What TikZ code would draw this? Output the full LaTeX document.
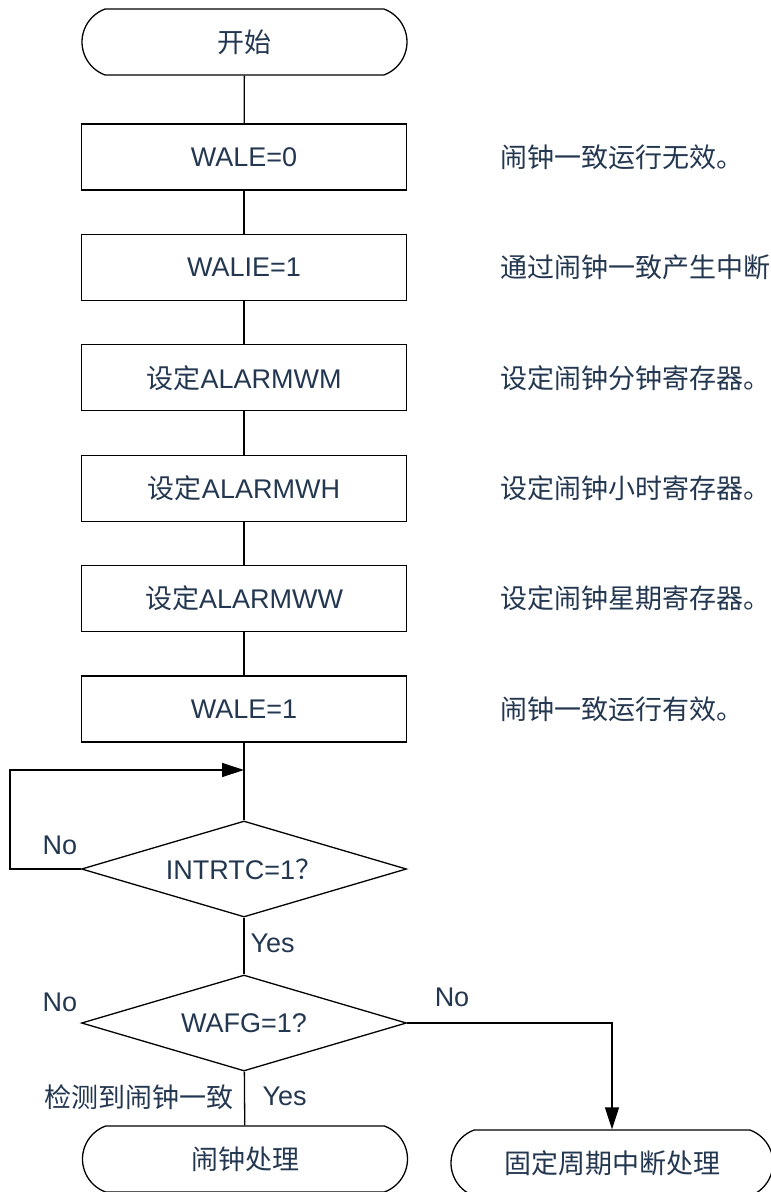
\documentclass[tikz,border=0pt]{standalone}
\usepackage{fontspec}
\setmainfont{Liberation Sans}
\newfontfamily\cjk{Noto Sans CJK SC}
\usetikzlibrary{shapes.geometric,shapes.misc,arrows.meta}
\definecolor{txtc}{RGB}{35,55,80}

\begin{document}
\begin{tikzpicture}[x=0.5pt, y=-0.5pt, line width=0.65pt,
    box/.style={draw, minimum width=162.5pt, minimum height=33pt, inner sep=0pt,
                text=txtc, font=\fontsize{13.5}{16}\selectfont},
    term/.style={box, rounded rectangle, rounded rectangle arc length=140},
    dec/.style={box, diamond, aspect=3.39, minimum height=48pt},
    lbl/.style={text=txtc, inner sep=0pt, font=\fontsize{13.5}{16}\selectfont},
    arr/.style={-{Triangle[length=11pt, width=7pt]}}
]
\useasboundingbox (0,0) rectangle (770,1192);

\node[term] (start) at (244.5,42) {\cjk 开始};
\node[box] (wale0) at (244,157) {WALE=0};
\node[box] (walie) at (244,267.4) {WALIE=1};
\node[box] (setwm) at (244,377.8) {{\cjk 设定}ALARMWM};
\node[box] (setwh) at (244,488.2) {{\cjk 设定}ALARMWH};
\node[box] (setww) at (244,598.6) {{\cjk 设定}ALARMWW};
\node[box] (wale1) at (244,709) {WALE=1};

% comments
\node[lbl, anchor=west] (c1) at (500,157) {\cjk 闹钟一致运行无效。};
\node[lbl, anchor=west] (c2) at (500,267.4) {\cjk 通过闹钟一致产生中断};
\node[lbl, anchor=west] (c3) at (500,377.8) {\cjk 设定闹钟分钟寄存器。};
\node[lbl, anchor=west] (c4) at (500,488.2) {\cjk 设定闹钟小时寄存器。};
\node[lbl, anchor=west] (c5) at (500,598.6) {\cjk 设定闹钟星期寄存器。};
\node[lbl, anchor=west] (c6) at (500,709) {\cjk 闹钟一致运行有效。};

\coordinate (join) at (244,770);
\node[dec] (intrtc) at (244,869) {INTRTC=1{\cjk ？}};
\node[dec] (wafg) at (244,1023) {WAFG=1?};
\node[term] (alarm) at (245,1159) {\cjk 闹钟处理};
\node[term, minimum width=161pt] (fixed) at (612,1163) {\cjk 固定周期中断处理};

\draw (start) -- (wale0);
\draw (wale0) -- (walie);
\draw (walie) -- (setwm);
\draw (setwm) -- (setwh);
\draw (setwh) -- (setww);
\draw (setww) -- (wale1);
\draw (wale1) -- (intrtc);
\draw[arr] (intrtc.west) -- ++(-71,0) |- (join);
\draw (intrtc) -- (wafg);
\draw (wafg) -- (alarm);
\draw[arr] (wafg.east) -| (fixed.north);

\node[lbl] (no1) at (60,845) {No};
\node[lbl, anchor=west] (yes1) at (250,943) {Yes};
\node[lbl] (no2) at (60,1002) {No};
\node[lbl] (no3) at (452,997) {No};
\node[lbl, anchor=west] (yes2) at (262,1096) {Yes};
\node[lbl, anchor=east] (hit) at (234,1097) {\cjk 检测到闹钟一致};
\end{tikzpicture}
\end{document}
